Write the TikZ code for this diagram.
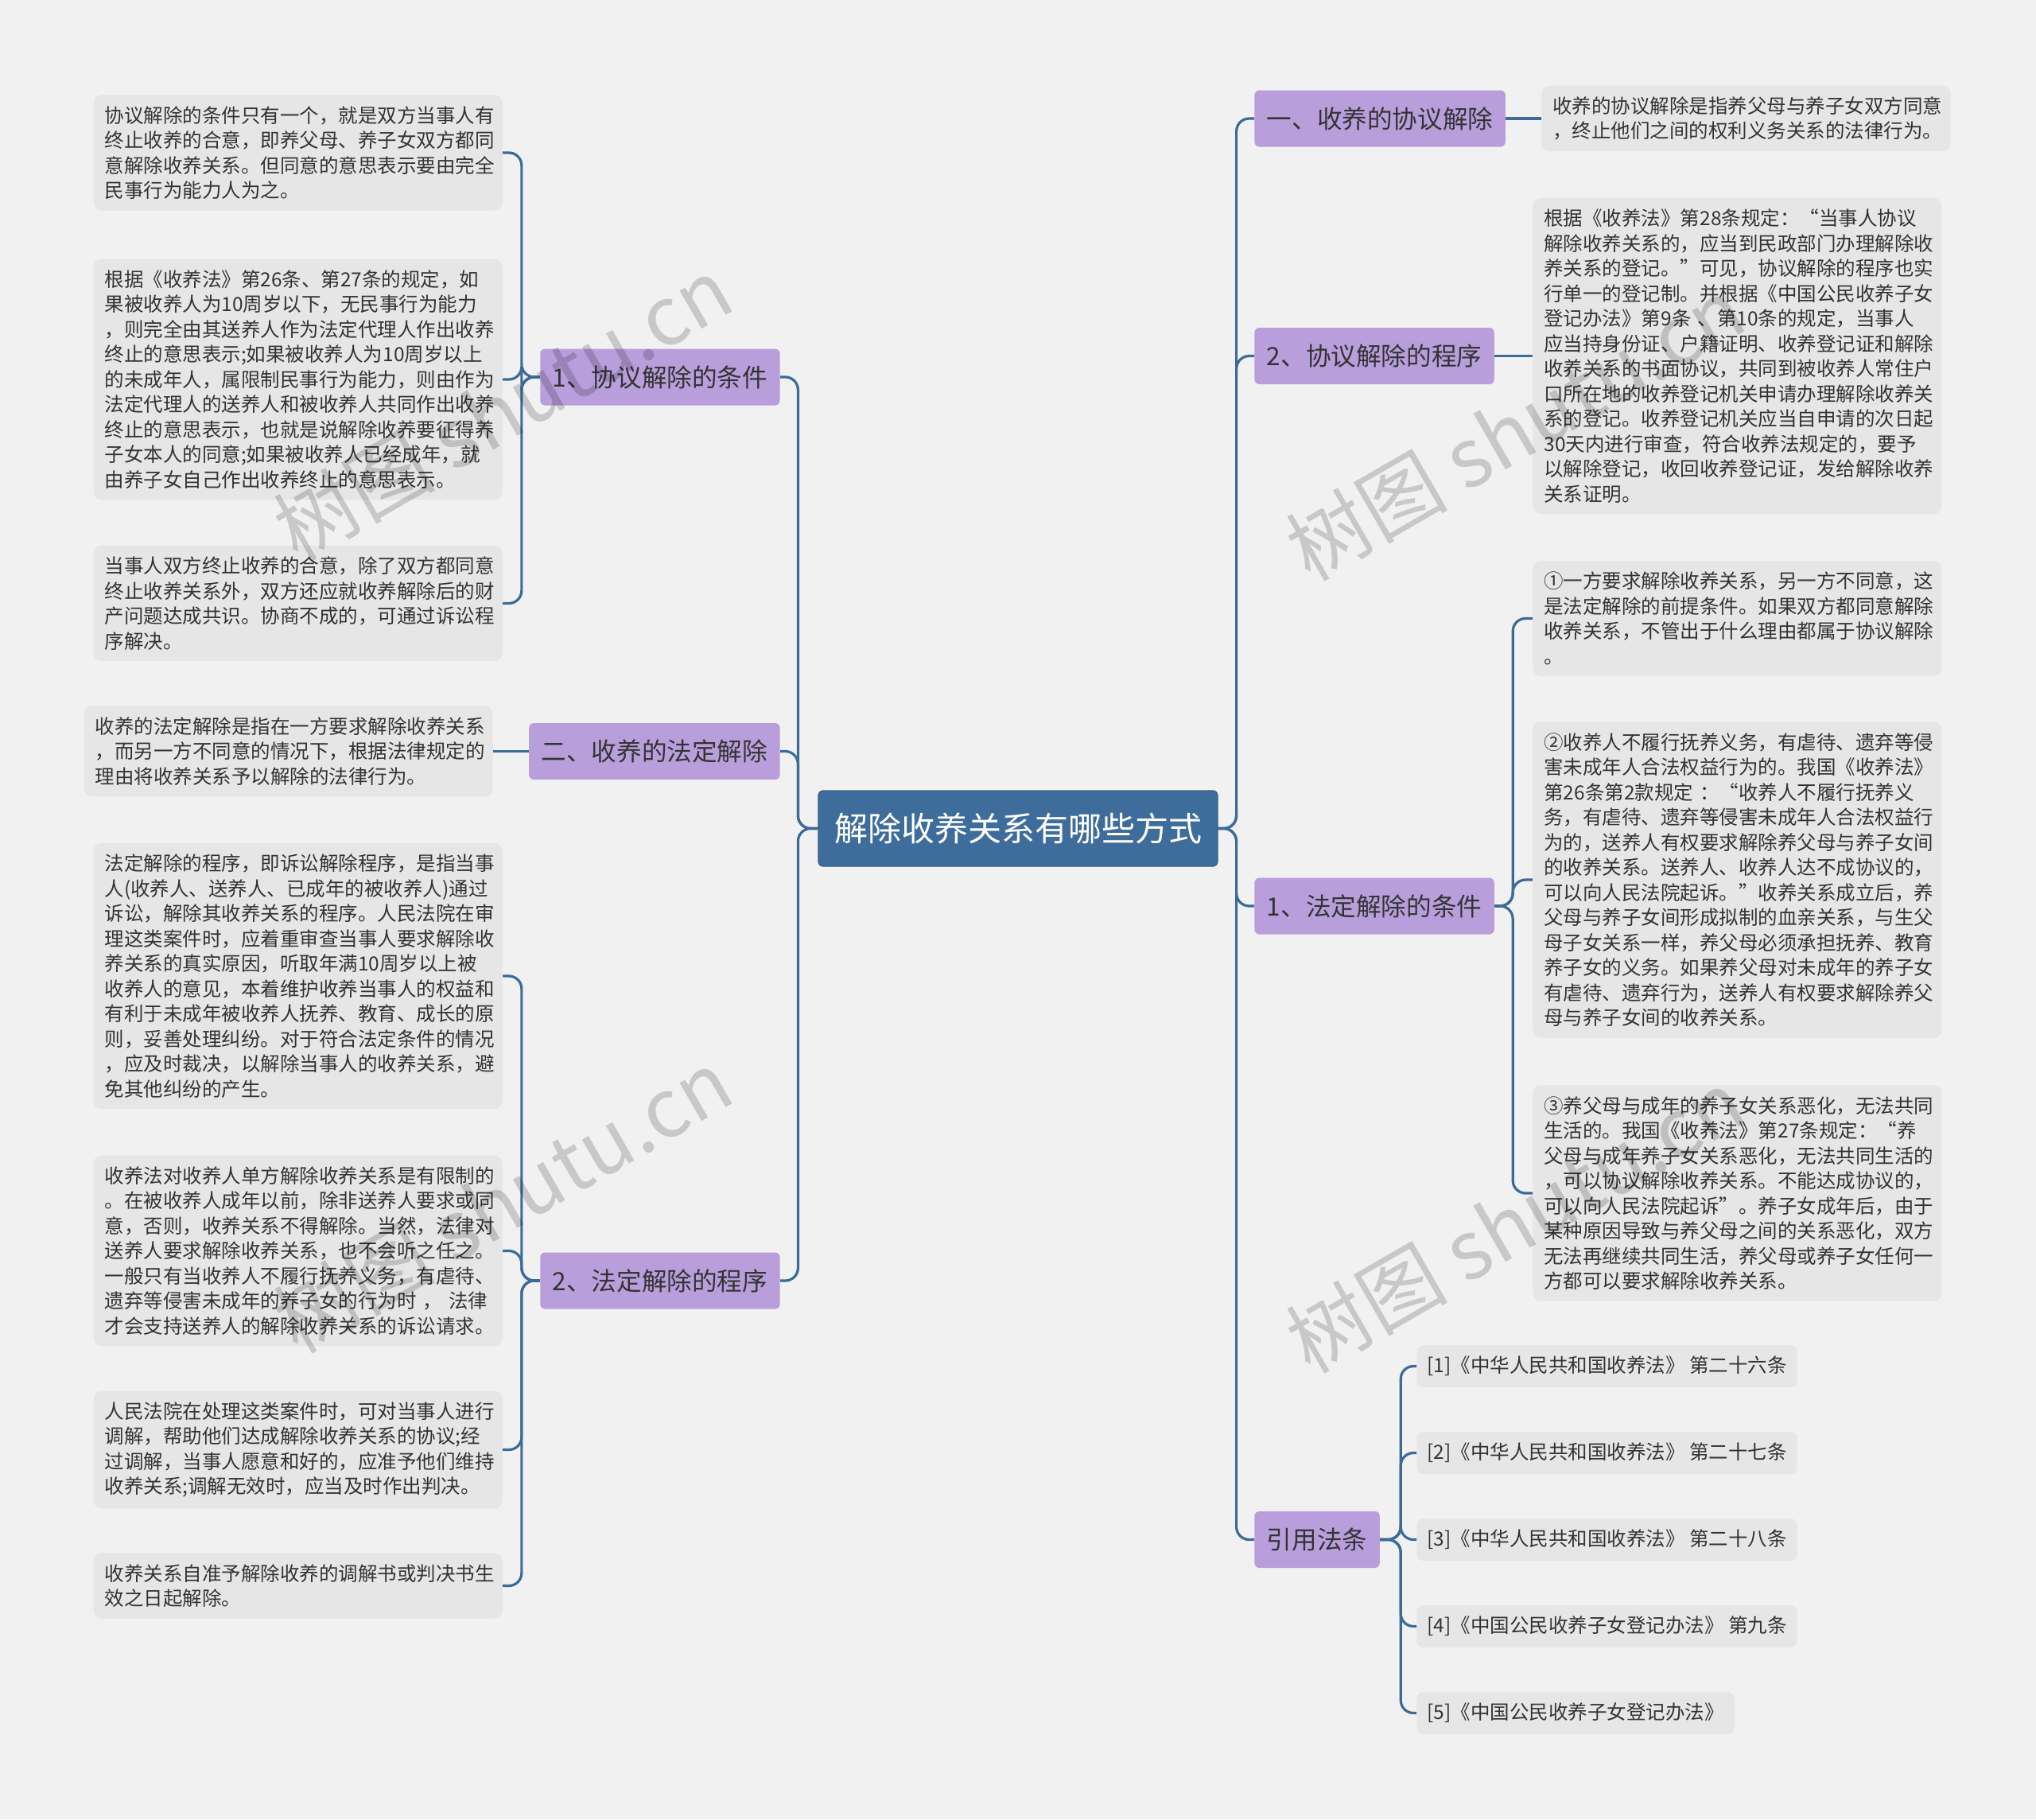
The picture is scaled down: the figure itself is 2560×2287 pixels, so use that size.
\documentclass[tikz,border=0pt]{standalone}
\usepackage{fontspec}
\setmainfont{Noto Sans CJK SC}
\usetikzlibrary{calc}

\definecolor{bgcol}{HTML}{F1F1F1}
\definecolor{rootcol}{HTML}{3E6D9B}
\definecolor{topiccol}{HTML}{B99EDC}
\definecolor{leafcol}{HTML}{E6E6E6}
\definecolor{linkcol}{HTML}{3C6B99}
\definecolor{inkcol}{HTML}{333333}

\begin{document}
\begin{tikzpicture}[x=0.5pt,y=-0.5pt,
    rootbox/.style={fill=rootcol, draw=rootcol!85!black, line width=0.6pt, rounded corners=3pt,
        text=white, font=\fontsize{21pt}{25pt}\selectfont,
        minimum width=251pt, minimum height=47.5pt, inner sep=0pt},
    topicbox/.style={fill=topiccol, rounded corners=3pt, text=inkcol,
        font=\fontsize{15.8pt}{19pt}\selectfont,
        minimum height=35.5pt, inner xsep=7.75pt, inner ysep=0pt},
    leafbox/.style={fill=leafcol, rounded corners=5pt, text=inkcol,
        font=\fontsize{12.25pt}{15.75pt}\selectfont,
        text width=243pt, align=left, inner xsep=7pt, inner ysep=7pt},
    refbox/.style={fill=leafcol, rounded corners=4pt, text=inkcol,
        font=\fontsize{12.25pt}{15.75pt}\selectfont,
        inner xsep=6.5pt, minimum height=26.5pt},
    conn/.style={draw=linkcol, line width=1.6pt, rounded corners=8pt},
    mark wm/.style={text=black, opacity=0.17, rotate=30,
        font=\fontsize{51pt}{55pt}\selectfont}]

    % Canvas
    \fill[bgcol] (0,0) rectangle (2560,2287);
    \useasboundingbox (0,0) rectangle (2560,2287);

    % Root
    \node[rootbox] (root) at (1280,1041.5) {解除收养关系有哪些方式};

    % Left topics
    \node[topicbox, anchor=east] (agrCond) at (981,474) {1、协议解除的条件};
    \node[topicbox, anchor=east] (legal)   at (981,944.5) {二、收养的法定解除};
    \node[topicbox, anchor=east] (legProc) at (981,1610) {2、法定解除的程序};

    % Right topics
    \node[topicbox, anchor=west] (agree)   at (1577,149) {一、收养的协议解除};
    \node[topicbox, anchor=west] (agrProc) at (1577,447.5) {2、协议解除的程序};
    \node[topicbox, anchor=west] (legCond) at (1577,1139) {1、法定解除的条件};
    \node[topicbox, anchor=west] (cite)    at (1577,1935.5) {引用法条};

    % Leaves of 1、协议解除的条件
    \node[leafbox, anchor=east] (agrCondA) at (632,192) {协议解除的条件只有一个，就是双方当事人有\\终止收养的合意，即养父母、养子女双方都同\\意解除收养关系。但同意的意思表示要由完全\\民事行为能力人为之。};
    \node[leafbox, anchor=east] (agrCondB) at (632,477) {根据《收养法》第26条、第27条的规定，如\\果被收养人为10周岁以下，无民事行为能力\\，则完全由其送养人作为法定代理人作出收养\\终止的意思表示;如果被收养人为10周岁以上\\的未成年人，属限制民事行为能力，则由作为\\法定代理人的送养人和被收养人共同作出收养\\终止的意思表示，也就是说解除收养要征得养\\子女本人的同意;如果被收养人已经成年，就\\由养子女自己作出收养终止的意思表示。};
    \node[leafbox, anchor=east] (agrCondC) at (632,758.5) {当事人双方终止收养的合意，除了双方都同意\\终止收养关系外，双方还应就收养解除后的财\\产问题达成共识。协商不成的，可通过诉讼程\\序解决。};

    % Leaf of 二、收养的法定解除
    \node[leafbox, anchor=east] (legalA) at (620,944.5) {收养的法定解除是指在一方要求解除收养关系\\，而另一方不同意的情况下，根据法律规定的\\理由将收养关系予以解除的法律行为。};

    % Leaves of 2、法定解除的程序
    \node[leafbox, anchor=east] (legProcA) at (632,1227) {法定解除的程序，即诉讼解除程序，是指当事\\人(收养人、送养人、已成年的被收养人)通过\\诉讼，解除其收养关系的程序。人民法院在审\\理这类案件时，应着重审查当事人要求解除收\\养关系的真实原因，听取年满10周岁以上被\\收养人的意见，本着维护收养当事人的权益和\\有利于未成年被收养人抚养、教育、成长的原\\则，妥善处理纠纷。对于符合法定条件的情况\\，应及时裁决，以解除当事人的收养关系，避\\免其他纠纷的产生。};
    \node[leafbox, anchor=east] (legProcB) at (632,1572.5) {收养法对收养人单方解除收养关系是有限制的\\。在被收养人成年以前，除非送养人要求或同\\意，否则，收养关系不得解除。当然，法律对\\送养人要求解除收养关系，也不会听之任之。\\一般只有当收养人不履行抚养义务，有虐待、\\遗弃等侵害未成年的养子女的行为时 ， 法律\\才会支持送养人的解除收养关系的诉讼请求。};
    \node[leafbox, anchor=east] (legProcC) at (632,1822.5) {人民法院在处理这类案件时，可对当事人进行\\调解，帮助他们达成解除收养关系的协议;经\\过调解，当事人愿意和好的，应准予他们维持\\收养关系;调解无效时，应当及时作出判决。};
    \node[leafbox, anchor=east] (legProcD) at (632,1993.5) {收养关系自准予解除收养的调解书或判决书生\\效之日起解除。};

    % Leaf of 一、收养的协议解除
    \node[leafbox, anchor=west] (agreeA) at (1938,149) {收养的协议解除是指养父母与养子女双方同意\\，终止他们之间的权利义务关系的法律行为。};

    % Leaf of 2、协议解除的程序
    \node[leafbox, anchor=west] (agrProcA) at (1927,447.5) {根据《收养法》第28条规定：“当事人协议\\解除收养关系的，应当到民政部门办理解除收\\养关系的登记。”可见，协议解除的程序也实\\行单一的登记制。并根据《中国公民收养子女\\登记办法》第9条 、第10条的规定，当事人\\应当持身份证、户籍证明、收养登记证和解除\\收养关系的书面协议，共同到被收养人常住户\\口所在地的收养登记机关申请办理解除收养关\\系的登记。收养登记机关应当自申请的次日起\\30天内进行审查，符合收养法规定的，要予\\以解除登记，收回收养登记证，发给解除收养\\关系证明。};

    % Leaves of 1、法定解除的条件
    \node[leafbox, anchor=west] (legCondA) at (1927,777.5) {①一方要求解除收养关系，另一方不同意，这\\是法定解除的前提条件。如果双方都同意解除\\收养关系，不管出于什么理由都属于协议解除\\。};
    \node[leafbox, anchor=west] (legCondB) at (1927,1106) {②收养人不履行抚养义务，有虐待、遗弃等侵\\害未成年人合法权益行为的。我国《收养法》\\第26条第2款规定 ：“收养人不履行抚养义\\务，有虐待、遗弃等侵害未成年人合法权益行\\为的，送养人有权要求解除养父母与养子女间\\的收养关系。送养人、收养人达不成协议的，\\可以向人民法院起诉。”收养关系成立后，养\\父母与养子女间形成拟制的血亲关系，与生父\\母子女关系一样，养父母必须承担抚养、教育\\养子女的义务。如果养父母对未成年的养子女\\有虐待、遗弃行为，送养人有权要求解除养父\\母与养子女间的收养关系。};
    \node[leafbox, anchor=west] (legCondC) at (1927,1500) {③养父母与成年的养子女关系恶化，无法共同\\生活的。我国《收养法》第27条规定：“养\\父母与成年养子女关系恶化，无法共同生活的\\，可以协议解除收养关系。不能达成协议的，\\可以向人民法院起诉”。养子女成年后，由于\\某种原因导致与养父母之间的关系恶化，双方\\无法再继续共同生活，养父母或养子女任何一\\方都可以要求解除收养关系。};

    % References
    \node[refbox, anchor=west] (citeA) at (1781,1717.5) {[1]《中华人民共和国收养法》 第二十六条};
    \node[refbox, anchor=west] (citeB) at (1781,1826.5) {[2]《中华人民共和国收养法》 第二十七条};
    \node[refbox, anchor=west] (citeC) at (1781,1935.5) {[3]《中华人民共和国收养法》 第二十八条};
    \node[refbox, anchor=west] (citeD) at (1781,2044.5) {[4]《中国公民收养子女登记办法》 第九条};
    \node[refbox, anchor=west] (citeE) at (1781,2153.5) {[5]《中国公民收养子女登记办法》};

    % Root to topics
    \foreach \t in {agree,agrProc,legCond,cite}
        \draw[conn] (root.east) -- ++(23,0) |- (\t.west);
    \foreach \t in {agrCond,legal,legProc}
        \draw[conn] (root.west) -- ++(-25,0) |- (\t.east);

    % Topics to leaves
    \foreach \l in {agrCondA,agrCondB,agrCondC}
        \draw[conn] (agrCond.west) -- ++(-23,0) |- (\l.east);
    \draw[conn] (legal.west) -- (legalA.east);
    \foreach \l in {legProcA,legProcB,legProcC,legProcD}
        \draw[conn] (legProc.west) -- ++(-23,0) |- (\l.east);
    \draw[conn] (agree.east) -- (agreeA.west);
    \draw[conn] (agrProc.east) -- (agrProcA.west);
    \foreach \l in {legCondA,legCondB,legCondC}
        \draw[conn] (legCond.east) -- ++(23,0) |- (\l.west);
    \foreach \l in {citeA,citeB,citeC,citeD,citeE}
        \draw[conn] (cite.east) -- ++(26,0) |- (\l.west);

    % Watermarks
    \foreach \p in {(632,514),(632,1510),(1905,539),(1905,1535)}
        \node[mark wm] at \p {树图 shutu.cn};

\end{tikzpicture}
\end{document}
